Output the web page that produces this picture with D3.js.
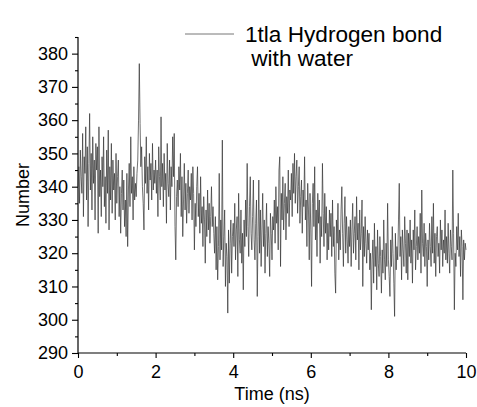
<!DOCTYPE html>
<html>
<head>
<meta charset="utf-8">
<script src="https://cdn.jsdelivr.net/npm/d3@7"></script>
<style>
    body { margin: 0; background: #fff; }
    text { font-family: "Liberation Sans", Arial, sans-serif; fill: #000; }
</style>
</head>
<body>
<svg id="chart" width="477" height="407"></svg>
<script>

// hydrogen bond count with water, one sample every 0.02 ns
let hbondValues = [
    340,346,335,351,343,338,356,331,349,344,358,336,352,328,347,362,339,350,333,355,341,348,330,353,345,
    352,326,358,337,345,331,349,340,355,334,343,329,351,338,357,327,346,336,353,332,348,339,344,330,350,
    335,343,348,331,340,326,338,345,333,342,328,336,325,344,322,339,347,334,355,338,343,330,346,336,341,
    337,344,348,360,377,359,346,352,340,335,327,349,341,355,338,346,333,350,342,347,336,353,339,345,341,
    348,338,345,331,352,343,336,361,340,347,334,350,339,344,329,353,341,337,348,333,346,340,355,343,356,
    328,318,337,342,334,346,339,350,331,343,325,336,347,333,341,329,338,345,332,340,336,344,330,346,338,
    321,335,328,340,346,331,338,326,343,329,334,322,337,330,317,333,325,339,327,335,323,331,340,328,334,
    326,320,331,315,328,312,322,344,318,330,321,354,316,325,333,310,323,319,302,327,311,323,330,314,325,
    329,322,335,318,327,331,313,338,324,320,333,317,326,309,330,322,336,325,347,328,319,334,343,326,321,
    331,342,324,318,329,336,307,325,342,320,333,316,327,338,322,330,314,326,335,319,328,323,313,332,326,
    318,331,327,336,323,340,329,334,321,345,349,316,338,330,343,327,335,341,324,337,332,345,328,339,336,
    344,331,347,338,350,335,343,348,332,340,346,329,337,342,326,339,334,349,330,336,322,341,333,318,338,
    327,310,335,341,328,346,324,333,319,338,329,336,317,331,325,347,332,322,338,326,334,318,329,321,333,
    325,332,319,336,322,328,314,308,330,323,335,318,327,321,333,340,326,316,329,337,320,331,324,317,328,
    322,330,316,327,335,320,326,331,318,337,324,329,315,333,321,326,336,310,328,319,331,323,317,327,321,
    326,315,320,303,318,324,311,329,316,322,309,327,317,313,325,319,308,321,314,330,318,312,323,316,335,
    318,313,307,324,316,328,320,311,301,326,315,322,318,330,341,319,325,312,327,321,316,331,323,314,327,
    312,326,319,330,317,324,311,327,321,333,315,322,328,318,325,320,332,314,339,323,319,329,316,326,322,
    310,324,318,329,322,316,331,320,335,317,326,313,325,328,319,323,314,330,321,327,316,324,320,333,318,
    325,317,329,320,314,327,322,318,345,326,303,320,316,328,321,332,319,325,313,327,322,306,324,318,323,
    321
];
let timeStep = 0.02;

let xTicks = [0, 2, 4, 6, 8, 10];
let xMinorTicks = [1, 3, 5, 7, 9];
let yTicks = [290, 300, 310, 320, 330, 340, 350, 360, 370, 380];
let yMinorTicks = [295, 305, 315, 325, 335, 345, 355, 365, 375, 385];

let legendLines = ["1tla Hydrogen bond", " with water"];
let xLabel = "Time (ns)";
let yLabel = "Number";

let data = hbondValues.map((v, i) => ({ t: i * timeStep, value: v }));

let svg = d3.select("#chart");

let x = d3.scaleLinear()
    .domain([0, 10])
    .range([78, 466]);

let y = d3.scaleLinear()
    .domain([290, 385])
    .range([353, 37]);

// axes: major ticks with labels, minor ticks without
let gx = svg.append("g")
    .attr("transform", `translate(0,${y(290)})`)
    .call(d3.axisBottom(x).tickValues(xTicks).tickSize(5).tickPadding(7).tickFormat(d3.format("d")));

svg.append("g")
    .attr("transform", `translate(0,${y(290)})`)
    .call(d3.axisBottom(x).tickValues(xMinorTicks).tickSize(3).tickFormat(""))
    .select(".domain").remove();

let gy = svg.append("g")
    .attr("transform", `translate(${x(0)},0)`)
    .call(d3.axisLeft(y).tickValues(yTicks).tickSize(6).tickPadding(4).tickFormat(d3.format("d")));

svg.append("g")
    .attr("transform", `translate(${x(0)},0)`)
    .call(d3.axisLeft(y).tickValues(yMinorTicks).tickSize(3).tickFormat(""))
    .select(".domain").remove();

gx.select(".domain").remove();
gy.select(".domain").remove();

svg.append("line")
    .attr("x1", x(0)).attr("x2", x(10))
    .attr("y1", y(290)).attr("y2", y(290))
    .attr("stroke", "#000").attr("stroke-width", 1.2);

svg.append("line")
    .attr("x1", x(0)).attr("x2", x(0))
    .attr("y1", y(290)).attr("y2", y(385))
    .attr("stroke", "#000").attr("stroke-width", 1.2);

svg.selectAll(".tick line").attr("stroke", "#000").attr("stroke-width", 1.1);
svg.selectAll(".tick text")
    .style("font-family", "Liberation Sans, Arial, sans-serif")
    .style("font-size", "18px")
    .attr("fill", "#000");

// the series
let line = d3.line()
    .x((d) => x(d.t))
    .y((d) => y(d.value));

svg.append("path")
    .datum(data)
    .attr("fill", "none")
    .attr("stroke", "#333")
    .attr("stroke-width", 0.7)
    .attr("d", line);

// axis titles
svg.append("text")
    .attr("x", (x(0) + x(10)) / 2)
    .attr("y", 400)
    .attr("text-anchor", "middle")
    .style("font-size", "18px")
    .text(xLabel);

svg.append("text")
    .attr("transform", `translate(29,${(y(290) + y(385)) / 2}) rotate(-90)`)
    .attr("text-anchor", "middle")
    .style("font-size", "18px")
    .text(yLabel);

// legend
svg.append("line")
    .attr("x1", 185).attr("x2", 234)
    .attr("y1", 34).attr("y2", 34)
    .attr("stroke", "#777").attr("stroke-width", 1);

svg.append("text")
    .attr("x", 245)
    .attr("y", 42)
    .style("font-size", "22.6px")
    .selectAll("tspan")
    .data(legendLines)
    .join("tspan")
    .attr("x", 245)
    .attr("dy", (d, i) => i === 0 ? 0 : 24)
    .attr("xml:space", "preserve")
    .style("white-space", "pre")
    .text((d) => d);

</script>
</body>
</html>
